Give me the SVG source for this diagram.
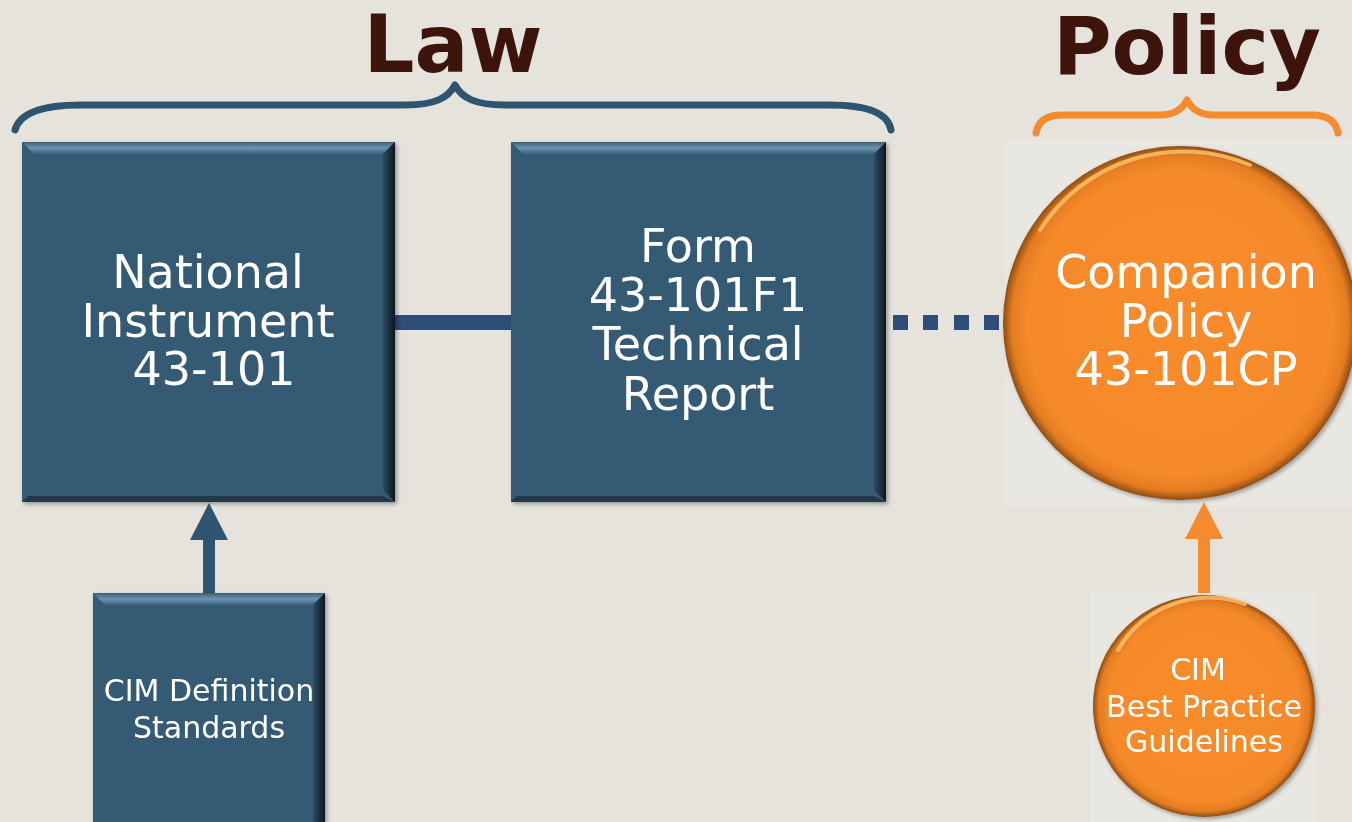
<svg xmlns="http://www.w3.org/2000/svg" width="1352" height="822" viewBox="0 0 1352 822">
<defs>
<style>
.lbl{font-family:"DejaVu Sans","Verdana",sans-serif;fill:#ffffff;text-anchor:middle}
.big{font-size:46px}
.small{font-size:30px}
.title{font-family:"DejaVu Sans","Verdana",sans-serif;font-weight:bold;font-size:80px;fill:#3D140C;text-anchor:middle}
.box{fill:#365A73}
.bevTop{fill:url(#gTop)}
.bevR{fill:url(#gRight)}
.bevB{fill:#24394A}
.brace{fill:none;stroke-width:7;stroke-linecap:round;stroke-linejoin:round}
.orb{fill:url(#gOrb)}
.hl{fill:none;stroke:#FFC46A;stroke-width:4;stroke-linecap:round;opacity:0.8}
</style>
<linearGradient id="gTop" x1="0" y1="0" x2="0" y2="1">
<stop offset="0" stop-color="#3B6079"/><stop offset="0.5" stop-color="#6C94B2"/><stop offset="1" stop-color="#3C617B"/>
</linearGradient>
<linearGradient id="gRight" x1="0" y1="0" x2="1" y2="0">
<stop offset="0" stop-color="#2D4B60"/><stop offset="1" stop-color="#0D171F"/>
</linearGradient>
<radialGradient id="gOrb" cx="0.5" cy="0.5" r="0.5">
<stop offset="0" stop-color="#F88B2B"/><stop offset="0.86" stop-color="#F68A2A"/><stop offset="0.95" stop-color="#E47C22"/><stop offset="1" stop-color="#8E4C12"/>
</radialGradient>
<filter id="sh" x="-10%" y="-10%" width="120%" height="120%">
<feDropShadow dx="2" dy="2" stdDeviation="2" flood-color="#000" flood-opacity="0.35"/>
</filter>
</defs>
<rect x="0" y="0" width="1352" height="822" fill="#E6E3DC"/>
<rect x="1005" y="140" width="347" height="366" fill="#E9E7E1"/>
<rect x="1090" y="591" width="227" height="231" fill="#E9E7E1"/>

<g id="title-law">
<text class="title" x="453" y="72">Law</text>
<path class="brace" stroke="#2F5470" d="M15,130 C20,112 45,105 80,105 L405,105 C435,105 448,98 455,85 C462,98 475,105 505,105 L830,105 C865,105 888,112 891,130"/>
</g>
<g id="title-policy">
<text class="title" x="1187" y="74">Policy</text>
<path class="brace" stroke="#F58A2E" d="M1036,133 C1038,122 1046,115 1062,115 L1160,115 C1175,115 1183,108 1187,100 C1191,108 1199,115 1214,115 L1312,115 C1328,115 1336,122 1338,133"/>
</g>

<g id="connectors">
<rect x="395" y="315" width="116" height="15" fill="#2E4D77"/>
<rect x="893" y="315" width="15" height="15" fill="#2E4D77"/>
<rect x="923" y="315" width="15" height="15" fill="#2E4D77"/>
<rect x="954" y="315" width="15" height="15" fill="#2E4D77"/>
<rect x="984" y="315" width="15" height="15" fill="#2E4D77"/>
<rect x="203" y="538" width="12" height="56" fill="#2F5470"/>
<polygon points="209,503 228,540 190,540" fill="#2F5470"/>
<rect x="1198" y="537" width="12" height="56" fill="#F58A2E"/>
<polygon points="1204,502 1223,539 1185,539" fill="#F58A2E"/>
</g>

<g id="node-ni" filter="url(#sh)">
<rect class="box" x="22" y="142" width="373" height="360"/>
<polygon class="bevTop" points="22,142 395,142 383,154 34,154"/>
<polygon class="bevR" points="395,142 395,502 383,490 383,154"/>
<polygon class="bevB" points="22,502 395,502 383,496 28,496"/>
<text class="lbl big" x="208" y="288">National</text>
<text class="lbl big" x="208" y="337">Instrument</text>
<text class="lbl big" x="214" y="385">43-101</text>
</g>

<g id="node-form" filter="url(#sh)">
<rect class="box" x="511" y="142" width="375" height="360"/>
<polygon class="bevTop" points="511,142 886,142 874,154 523,154"/>
<polygon class="bevR" points="886,142 886,502 874,490 874,154"/>
<polygon class="bevB" points="511,502 886,502 874,496 517,496"/>
<text class="lbl big" x="698" y="262">Form</text>
<text class="lbl big" x="698" y="311">43-101F1</text>
<text class="lbl big" x="698" y="360">Technical</text>
<text class="lbl big" x="698" y="410">Report</text>
</g>

<g id="node-cp" filter="url(#sh)">
<circle class="orb" cx="1180" cy="323" r="177"/>
<path class="hl" d="M1040,230 A170,170 0 0 1 1250,165"/>
<text class="lbl big" x="1186" y="288">Companion</text>
<text class="lbl big" x="1186" y="337">Policy</text>
<text class="lbl big" x="1186" y="385">43-101CP</text>
</g>

<g id="node-cim-def" filter="url(#sh)">
<rect class="box" x="93" y="593" width="232" height="240"/>
<polygon class="bevTop" points="93,593 325,593 313,605 105,605"/>
<polygon class="bevR" points="325,593 325,833 313,821 313,605"/>
<text class="lbl small" x="209" y="701">CIM Definition</text>
<text class="lbl small" x="209" y="738">Standards</text>
</g>

<g id="node-cim-bp" filter="url(#sh)">
<circle class="orb" cx="1204" cy="706" r="111"/>
<path class="hl" d="M1118,650 A105,105 0 0 1 1245,604"/>
<text class="lbl small" x="1198" y="680">CIM</text>
<text class="lbl small" x="1204" y="717">Best Practice</text>
<text class="lbl small" x="1204" y="752">Guidelines</text>
</g>
</svg>
